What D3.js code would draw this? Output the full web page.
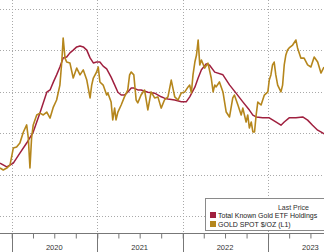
<!DOCTYPE html>
<html>
<head>
<meta charset="utf-8">
<script src="https://cdn.jsdelivr.net/npm/d3@7"></script>
<style>
html,body{margin:0;padding:0;background:#fff;overflow:hidden;}
svg{display:block;}
text{font-family:"Liberation Sans",Arial,sans-serif;}
</style>
</head>
<body>
<script>
// ---- DATA ----
const goldDates = ["2019-11-12","2019-11-26","2019-12-11","2019-12-25","2020-01-08","2020-01-22","2020-02-05","2020-02-20","2020-03-05","2020-03-12","2020-03-19","2020-03-26","2020-04-02","2020-04-17","2020-05-01","2020-05-15","2020-05-30","2020-06-13","2020-06-27","2020-07-11","2020-07-25","2020-08-02","2020-08-08","2020-08-16","2020-08-23","2020-09-06","2020-09-20","2020-10-05","2020-10-19","2020-11-02","2020-11-17","2020-12-01","2020-12-08","2020-12-15","2020-12-29","2021-01-05","2021-01-12","2021-01-26","2021-02-10","2021-02-15","2021-03-01","2021-03-08","2021-03-16","2021-03-22","2021-03-30","2021-04-13","2021-04-27","2021-05-11","2021-05-19","2021-05-26","2021-06-06","2021-06-16","2021-06-23","2021-07-07","2021-07-22","2021-08-05","2021-08-19","2021-09-03","2021-09-17","2021-10-01","2021-10-15","2021-10-30","2021-11-13","2021-11-28","2021-12-12","2021-12-26","2022-01-10","2022-01-24","2022-01-31","2022-02-07","2022-02-14","2022-02-22","2022-03-01","2022-03-08","2022-03-15","2022-03-22","2022-04-05","2022-04-19","2022-05-03","2022-05-11","2022-05-18","2022-05-24","2022-06-07","2022-06-22","2022-07-06","2022-07-20","2022-08-03","2022-08-10","2022-08-25","2022-09-08","2022-09-15","2022-09-29","2022-10-06","2022-10-13","2022-10-21","2022-10-28","2022-11-04","2022-11-11","2022-11-18","2022-12-02","2022-12-16","2022-12-31","2023-01-06","2023-01-13","2023-01-20","2023-01-27","2023-02-03","2023-02-11","2023-02-25","2023-03-04","2023-03-11","2023-03-18","2023-03-25","2023-04-01","2023-04-16","2023-04-30","2023-05-07","2023-05-21","2023-06-04","2023-06-19","2023-07-03","2023-07-17","2023-08-01","2023-08-15","2023-08-28"];
const goldValues = [1431,1422,1431,1446,1528,1533,1552,1605,1639,1576,1431,1576,1639,1687,1696,1687,1701,1672,1725,1759,1831,1942,2058,1961,1942,1937,1865,1913,1880,1904,1855,1769,1831,1865,1894,1918,1846,1831,1783,1793,1749,1663,1720,1663,1701,1735,1774,1807,1880,1894,1880,1759,1745,1783,1807,1711,1798,1769,1774,1720,1759,1774,1855,1774,1759,1793,1798,1822,1831,1793,1880,1942,1976,2048,1928,1952,1913,1937,1865,1798,1831,1822,1846,1798,1701,1677,1769,1783,1735,1687,1720,1653,1687,1624,1653,1605,1605,1687,1749,1735,1783,1798,1855,1880,1928,1942,1880,1831,1798,1831,1928,1976,2000,2010,2024,2048,2010,1961,1961,1928,1918,1966,1942,1889,1918];

const etfDates = ["2019-11-12","2019-12-11","2020-01-08","2020-02-05","2020-03-05","2020-04-02","2020-05-01","2020-05-30","2020-06-13","2020-06-27","2020-07-11","2020-07-25","2020-08-08","2020-08-23","2020-09-06","2020-09-20","2020-10-05","2020-10-19","2020-11-02","2020-11-17","2020-12-01","2020-12-15","2020-12-29","2021-01-12","2021-01-26","2021-02-10","2021-03-01","2021-03-16","2021-03-30","2021-04-13","2021-04-27","2021-05-11","2021-05-26","2021-06-06","2021-06-23","2021-07-07","2021-08-05","2021-09-03","2021-10-01","2021-10-15","2021-10-30","2021-11-28","2021-12-26","2022-01-16","2022-01-31","2022-02-22","2022-03-08","2022-03-22","2022-04-12","2022-04-26","2022-05-18","2022-06-22","2022-07-20","2022-08-17","2022-09-15","2022-10-13","2022-10-28","2022-11-11","2022-12-09","2023-01-06","2023-02-03","2023-02-25","2023-03-11","2023-04-01","2023-04-30","2023-05-29","2023-06-19","2023-07-10","2023-08-01","2023-08-22","2023-08-28"];
const etfValues = [84.4,83.6,84.4,86.6,88.8,91.2,95.4,99.9,100.4,102.1,103.7,105.4,107.4,107.6,108.5,109.1,109.8,110.0,109.8,109.1,107.4,106.3,106.5,106.5,105.6,105.0,103.2,101.5,99.9,99.3,99.3,99.9,100.8,100.8,100.4,100.4,99.9,99.7,98.9,98.6,98.4,98.2,97.8,97.8,98.9,101.0,103.0,104.8,106.1,105.8,104.3,103.7,101.5,99.7,97.8,96.0,94.9,94.5,94.3,94.3,93.4,92.7,93.4,94.3,94.3,94.5,93.8,92.7,91.6,91.0,90.8];

const goldTicks = [1200,1400,1600,1800,2000,2200];
const yearLabels = ["2020","2021","2022","2023"];
const seriesNames = ["Total Known Gold ETF Holdings","GOLD SPOT $/OZ  (L1)"];
const legendTitle = "Last Price";

// ---- CHART ----
const W = 324, H = 252;
const parse = d3.timeParse("%Y-%m-%d");
const svg = d3.select("body").append("svg").attr("width", W).attr("height", H);

const x = d3.scaleTime().domain([parse("2019-11-12"), parse("2023-08-28")]).range([0, W]);
const yGold = d3.scaleLinear().domain([1200, 2000]).range([216, 50]);
const yEtf = d3.scaleLinear().domain([84, 110]).range([165, 46]);
const axisY = 233;

// horizontal gridlines
svg.append("g").selectAll("line").data(goldTicks).join("line")
  .attr("x1", 0).attr("x2", W)
  .attr("y1", d => Math.round(yGold(d)) + 0.5).attr("y2", d => Math.round(yGold(d)) + 0.5)
  .attr("stroke", "#a9a9a9").attr("stroke-width", 1).attr("stroke-dasharray", "1,2");

// vertical gridlines at year starts
const yearStarts = yearLabels.map(y => parse(y + "-01-01"));
svg.append("g").selectAll("line").data(yearStarts).join("line")
  .attr("x1", d => Math.round(x(d)) + 0.5).attr("x2", d => Math.round(x(d)) + 0.5)
  .attr("y1", 0).attr("y2", axisY)
  .attr("stroke", "#a9a9a9").attr("stroke-width", 1).attr("stroke-dasharray", "1,2");

// lines
const etfData = etfDates.map((d, i) => ({ d: parse(d), v: etfValues[i] }));
const goldData = goldDates.map((d, i) => ({ d: parse(d), v: goldValues[i] }));

svg.append("path").datum(etfData)
  .attr("fill", "none").attr("stroke", "#a0203f").attr("stroke-width", 1.5)
  .attr("stroke-linejoin", "round")
  .attr("d", d3.line().x(p => x(p.d)).y(p => yEtf(p.v)));

svg.append("path").datum(goldData)
  .attr("fill", "none").attr("stroke", "#b5861c").attr("stroke-width", 1.6)
  .attr("stroke-linejoin", "round")
  .attr("d", d3.line().x(p => x(p.d)).y(p => yGold(p.v)));

// bottom axis
const axis = d3.axisBottom(x)
  .ticks(d3.timeMonth.every(3))
  .tickSize(5)
  .tickFormat("");
const gAxis = svg.append("g").attr("transform", `translate(0,${axisY + 0.5})`).call(axis);
gAxis.select(".domain").attr("stroke", "#777").attr("d", `M0,0H${W}`);
gAxis.selectAll(".tick line").attr("stroke", "#777");

// year separators below the axis
svg.append("g").selectAll("line").data(yearStarts).join("line")
  .attr("x1", d => Math.round(x(d)) + 0.5).attr("x2", d => Math.round(x(d)) + 0.5)
  .attr("y1", axisY).attr("y2", H)
  .attr("stroke", "#777").attr("stroke-width", 1);

// year labels centred in the year
svg.append("g").selectAll("text").data(yearLabels).join("text")
  .attr("x", d => x(parse(d + "-07-01")))
  .attr("y", 249.5)
  .attr("text-anchor", "middle")
  .attr("font-size", 7.5)
  .attr("fill", "#333")
  .text(d => d);

// legend
const lg = svg.append("g");
lg.append("rect").attr("x", 205.5).attr("y", 198.5).attr("width", 130).attr("height", 32)
  .attr("fill", "#fff").attr("stroke", "#8a8a8a").attr("stroke-width", 1);
lg.append("text").attr("x", 309).attr("y", 209.5).attr("text-anchor", "end")
  .attr("font-size", 7).attr("fill", "#333").text(legendTitle);
const colors = ["#a0203f", "#b5861c"];
seriesNames.forEach((n, i) => {
  lg.append("rect").attr("x", 210).attr("y", 212 + i * 9).attr("width", 6).attr("height", 6).attr("fill", colors[i]);
  lg.append("text").attr("x", 218).attr("y", 218 + i * 9)
    .attr("font-size", 7).attr("fill", "#222").text(n);
});
</script>
</body>
</html>
